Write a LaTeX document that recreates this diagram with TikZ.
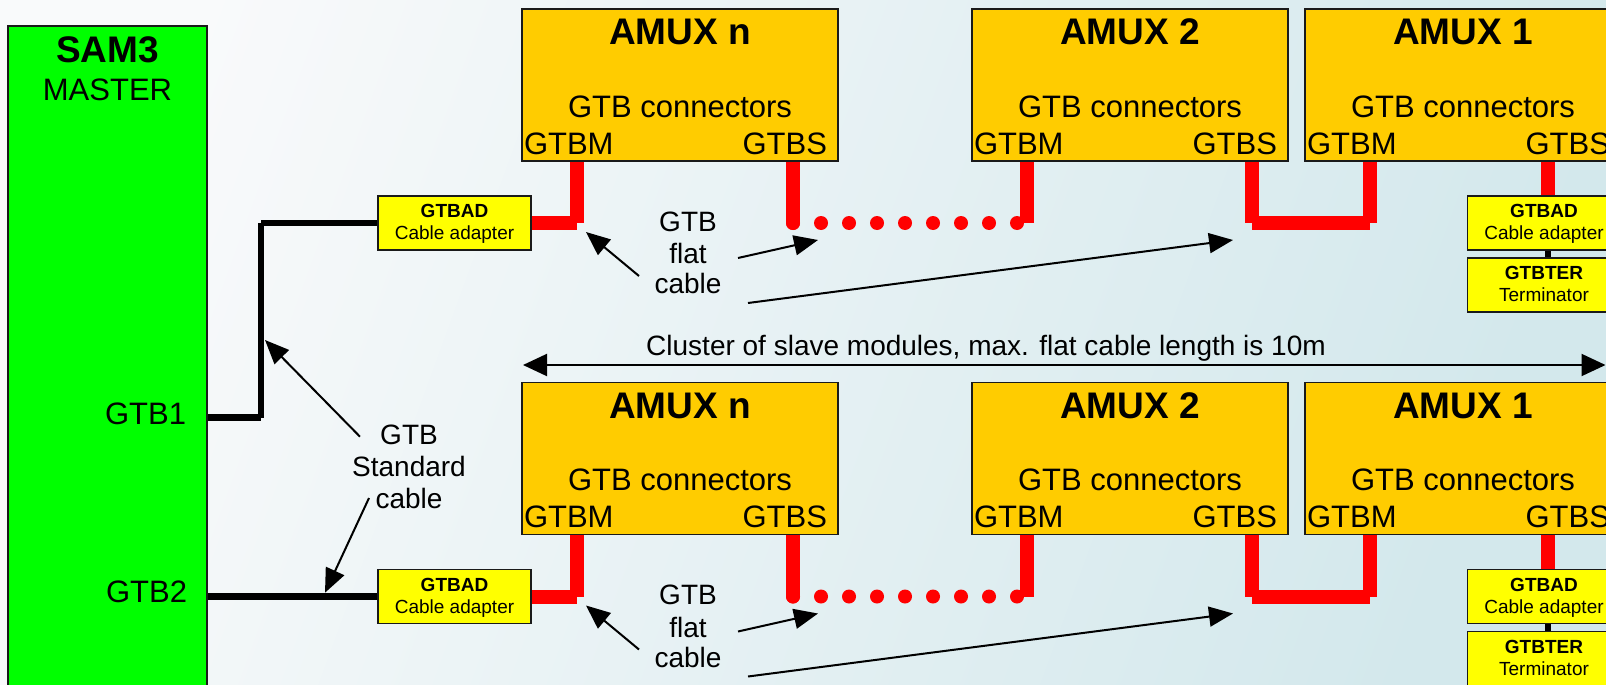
\documentclass[tikz,border=0pt]{standalone}
\usepackage{fontspec}
\setmainfont{Liberation Sans}
\usetikzlibrary{arrows.meta}
\definecolor{amuxfill}{HTML}{FFCC00}
\definecolor{adfill}{HTML}{FFFF00}
\definecolor{samfill}{HTML}{00FF00}
\definecolor{cablered}{HTML}{FF0000}
\definecolor{bgA}{HTML}{F9FAFB}
\definecolor{bgB}{HTML}{D3E8EC}
\definecolor{edge}{HTML}{1A1A1A}
\pgfdeclarelayer{back}
\pgfdeclarelayer{mid}
\pgfsetlayers{back,mid,main}
\tikzset{
 box/.style={draw=edge, line width=1.4pt, inner sep=0pt, outer sep=0pt},
 amuxst/.style={box, fill=amuxfill, minimum width=316pt, minimum height=152pt},
 adst/.style={box, fill=adfill, minimum width=153pt, minimum height=54pt},
 samst/.style={box, fill=samfill, minimum width=199pt, minimum height=690pt},
 txt/.style={inner sep=0pt, outer sep=0pt, font=\fontsize{31}{37}\selectfont},
 bigbold/.style={inner sep=0pt, outer sep=0pt, font=\fontsize{37}{44}\selectfont\bfseries},
 smalltxt/.style={inner sep=0pt, outer sep=0pt, font=\fontsize{19}{23}\selectfont},
 smallbold/.style={inner sep=0pt, outer sep=0pt, font=\fontsize{19}{23}\selectfont\bfseries},
 lbl/.style={inner sep=0pt, outer sep=0pt, font=\fontsize{28}{32}\selectfont},
 redcab/.style={draw=cablered, line width=14pt},
 blkcab/.style={draw=black, line width=6.5pt},
 pointer/.style={draw=black, line width=2pt, -{Triangle[length=24pt,width=20pt]}},
 dblptr/.style={draw=black, line width=2pt, {Triangle[length=24pt,width=22pt]}-{Triangle[length=24pt,width=22pt]}},
}
\newcommand{\amuxbox}[4]{%
 \node[amuxst, anchor=north west] (#1) at (#2,#3) {};
 \node[bigbold, anchor=base] (#1t) at ([yshift=-36pt]#1.north) {#4};
 \node[txt, anchor=base] (#1c) at ([yshift=-108pt]#1.north) {GTB connectors};
 \node[txt, anchor=base west] (#1m) at ([xshift=2pt,yshift=7pt]#1.south west) {GTBM};
 \node[txt, anchor=base east] (#1s) at ([xshift=-11pt,yshift=7pt]#1.south east) {GTBS};
}
\newcommand{\adbox}[5]{%
 \node[adst, anchor=north west] (#1) at (#2,#3) {};
 \node[smallbold, anchor=base] (#1a) at ([yshift=-21.5pt]#1.north) {#4};
 \node[smalltxt, anchor=base] (#1b) at ([yshift=-43.5pt]#1.north) {#5};
}
\begin{document}
\begin{tikzpicture}[x=1pt,y=-1pt]
\useasboundingbox (0,0) rectangle (1606,685);
\clip (0,0) rectangle (1606,685);
\begin{pgfonlayer}{back}
\shade[left color=bgA, right color=bgB, shading angle=70] (0,0) rectangle (1606,685);
\end{pgfonlayer}

% master
\node[samst, anchor=north west] (sam) at (8,26) {};
\node[bigbold, anchor=base] (samt) at (107.5,63) {SAM3};
\node[txt, anchor=base] (samm) at (107.5,100) {MASTER};
\node[txt, anchor=base east] (g1t) at (186,424) {GTB1};
\node[txt, anchor=base east] (g2t) at (187,602.5) {GTB2};

\foreach \s/\o in {U/0,L/373.5}{
  \amuxbox{n\s}{522}{9+\o}{AMUX n}
  \amuxbox{t\s}{972}{9+\o}{AMUX 2}
  \amuxbox{o\s}{1305}{9+\o}{AMUX 1}
  \adbox{ad\s}{378}{196+\o}{GTBAD}{Cable adapter}
  \adbox{ar\s}{1467.5}{196+\o}{GTBAD}{Cable adapter}
  \adbox{te\s}{1467.5}{258+\o}{GTBTER}{Terminator}
  \coordinate (nM\s) at ([xshift=54.7pt]n\s.south west);
  \coordinate (nS\s) at ([xshift=271pt]n\s.south west);
  \coordinate (tM\s) at ([xshift=55pt]t\s.south west);
  \coordinate (tS\s) at ([xshift=280pt]t\s.south west);
  \coordinate (oM\s) at ([xshift=64.5pt]o\s.south west);
  \coordinate (oS\s) at ([xshift=243pt]o\s.south west);
  \begin{pgfonlayer}{mid}
    \draw[redcab] (ad\s.east) -- (ad\s.east -| nM\s);
    \draw[redcab] (ad\s.east -| nM\s) -- ([yshift=5pt]nM\s);
    \draw[redcab, line cap=round] ([yshift=5pt]nS\s) -- (nS\s |- ad\s.east);
    \draw[redcab, line cap=round, dash pattern=on 0pt off 28pt] (nS\s |- ad\s.east) -- (tM\s |- ad\s.east);
    \draw[redcab] ([yshift=5pt]tM\s) -- (tM\s |- ad\s.east);
    \draw[redcab] ([yshift=5pt]tS\s) -- (tS\s |- ad\s.east);
    \draw[redcab] ([yshift=5pt]oM\s) -- (oM\s |- ad\s.east);
    \draw[redcab] (tS\s |- ad\s.east) -- (oM\s |- ad\s.east);
    \draw[redcab] ([yshift=5pt]oS\s) -- (ar\s.north -| oS\s);
    \draw[blkcab] (ar\s.south -| oS\s) -- (te\s.north -| oS\s);
  \end{pgfonlayer}
  % flat cable labels and pointers
  \node[lbl, anchor=base] (fa\s) at (688,231+\o) {GTB};
  \node[lbl, anchor=base] (fb\s) at (688,263.5+\o) {flat};
  \node[lbl, anchor=base] (fc\s) at (688,293.5+\o) {cable};
  \coordinate (p1\s) at (639,276+\o);
  \coordinate (q1\s) at (586,232+\o);
  \coordinate (p2\s) at (738,258+\o);
  \coordinate (q2\s) at (818,240+\o);
  \coordinate (p3\s) at (748,303+\o);
  \coordinate (q3\s) at (1233,240+\o);
  \draw[pointer] (p1\s) -- (q1\s);
  \draw[pointer] (p2\s) -- (q2\s);
  \draw[pointer] (p3\s) -- (q3\s);
}

% standard cables
\coordinate (g1p) at (207,417.7);
\coordinate (g1k) at (261,417.7);
\begin{pgfonlayer}{mid}
\draw[blkcab] (g1p) -- (g1k);
\draw[blkcab] (g1k) -- (g1k |- adU.west);
\draw[blkcab] (g1k |- adU.west) -- (adU.west);
\draw[blkcab] (adL.west -| sam.east) -- (adL.west);
\end{pgfonlayer}

\node[lbl, anchor=base] (st1) at (409,444) {GTB};
\node[lbl, anchor=base] (st2) at (409,476) {Standard};
\node[lbl, anchor=base] (st3) at (409,508) {cable};
\coordinate (sp1) at (360,436.7);
\coordinate (sq1) at (265,340);
\coordinate (sp2) at (369,498);
\coordinate (sq2) at (325,592.7);
\draw[pointer] (sp1) -- (sq1);
\draw[pointer] (sp2) -- (sq2);

% cluster
\node[lbl, anchor=base] (clt) at (986,355) {Cluster of slave modules, max. flat cable length is 10m};
\coordinate (cll) at (523,365);
\coordinate (clr) at (1605.5,365);
\draw[dblptr] (cll) -- (clr);
\end{tikzpicture}
\end{document}
